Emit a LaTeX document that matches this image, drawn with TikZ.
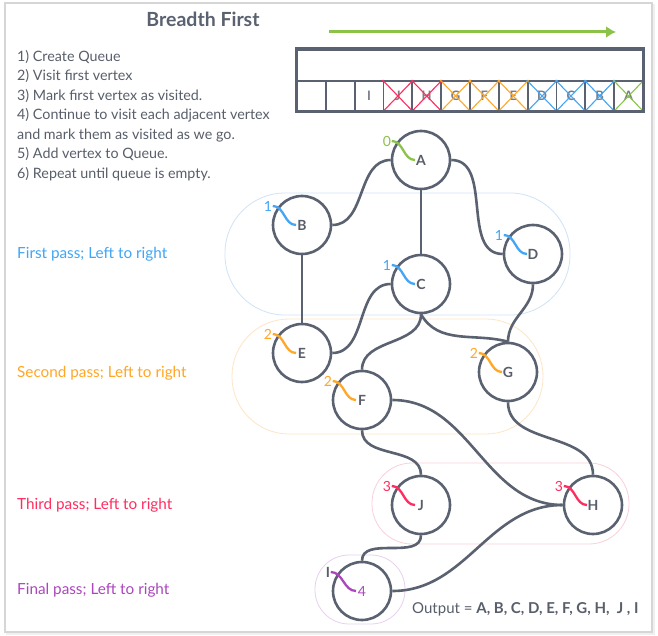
\documentclass[tikz,border=0pt]{standalone}
\usepackage{fontspec}
\setmainfont{Lato}
\usetikzlibrary{arrows.meta,calc}
\definecolor{edgegray}{HTML}{5A6170}
\definecolor{txtgray}{HTML}{585E6A}
\definecolor{framegray}{HTML}{D6D6D6}
\definecolor{qgreen}{HTML}{8BC34A}
\definecolor{qblue}{HTML}{42A5F5}
\definecolor{qorange}{HTML}{FFA726}
\definecolor{qred}{HTML}{FF2D5F}
\definecolor{qpurple}{HTML}{AB47BC}
\definecolor{bubblue}{HTML}{CFE4F7}
\definecolor{buborange}{HTML}{FDE6C6}
\definecolor{bubred}{HTML}{F9D0DA}
\definecolor{bubpurple}{HTML}{E7D1EE}

\begin{document}
\begin{tikzpicture}[x=1pt,y=-1pt,>=Latex,
 vtx/.style={circle,draw=edgegray,line width=2.6pt,fill=white,minimum size=58pt,inner sep=0pt,font=\fontsize{14}{16}\selectfont\bfseries,text=txtgray},
 num/.style={inner sep=0.5pt,font=\fontsize{14}{16}\selectfont},
 sq/.style={line width=2.3pt},
 edge/.style={draw=edgegray,line width=2.6pt},
 bubble/.style={line width=0.8pt},
 passlbl/.style={anchor=west,inner sep=0pt,font=\fontsize{15.3}{17}\selectfont},
 cell/.style={draw=edgegray,line width=1.8pt,minimum width=28.83pt,minimum height=30pt,inner sep=0pt,font=\fontsize{13}{15}\selectfont\bfseries,text=txtgray!80}]
\useasboundingbox (0,0) rectangle (658,636);
\draw[black!6,line width=2pt] (7,5) rectangle (654,634);
\draw[framegray,line width=1.2pt,fill=white] (5,3) rectangle (652,632);

% title and steps
\node[font=\fontsize{19.5}{22}\selectfont\bfseries,text=edgegray] (title) at (203,19) {Breadth First};
\node[anchor=north west,inner sep=0pt,align=left,text=txtgray,font=\fontsize{14.3}{19.5}\selectfont] (steps) at (17,50)
{1) Create Queue\\2) Visit first vertex\\3) Mark first vertex as visited.\\4) Continue to visit each adjacent vertex\\and mark them as visited as we go.\\5) Add vertex to Queue.\\6) Repeat until queue is empty.};

% queue
\coordinate (arrS) at (329,32);
\coordinate (arrE) at (616,32);
\draw[qgreen,line width=3pt,-{Latex[length=10pt,width=12pt]}] (arrS) -- (arrE);
\node[draw=edgegray,line width=2pt,minimum width=346pt,minimum height=31pt,inner sep=0pt] (qtop) at (470,65.5) {};
\foreach \i in {1,...,12}
  \node[cell] (q\i) at ({282.6+28.83*\i},96) {};
\node[cell,draw=none] at (q3) {I};
\foreach \i/\l/\c in {4/J/qred,5/H/qred,6/G/qorange,7/F/qorange,8/E/qorange,9/D/qblue,10/C/qblue,11/B/qblue,12/A/qgreen}{
  \node[cell,draw=none] at (q\i) {\l};
  \draw[\c,line width=1.1pt] (q\i.north west) -- (q\i.south east) (q\i.south west) -- (q\i.north east);
}
\draw[edgegray,line width=3pt] (qtop.north west) rectangle (q12.south east);

% passes
\draw[bubble,bubblue,rounded corners=60pt] (225,193) rectangle (570,315);
\draw[bubble,buborange,rounded corners=57pt] (232,319) rectangle (543,434);
\draw[bubble,bubred,rounded corners=40pt] (372,463) rectangle (629,544);
\draw[bubble,bubpurple,rounded corners=34pt] (315,555) rectangle (405,624);
\node[passlbl,text=qblue] (p1) at (17,254) {First pass; Left to right};
\node[passlbl,text=qorange] (p2) at (17,373) {Second pass; Left to right};
\node[passlbl,text=qred] (p3) at (17,505) {Third pass; Left to right};
\node[passlbl,text=qpurple] (p4) at (17,590) {Final pass; Left to right};

% vertices
\node[vtx] (A) at (421,160) {A};
\node[vtx] (B) at (302,225) {B};
\node[vtx] (C) at (421,284) {C};
\node[vtx] (D) at (533,254) {D};
\node[vtx] (E) at (302,353) {E};
\node[vtx] (F) at (362,400) {F};
\node[vtx] (G) at (508,372) {G};
\node[vtx] (J) at (421,505) {J};
\node[vtx] (H) at (593,505) {H};
\node[vtx,text=qpurple,font=\fontsize{14}{16}\selectfont] (I) at (362,591) {4};

% edges
\draw[edge] (A.west) to[out=180,in=0] (B.east);
\draw[edge] (A.south) -- (C.north);
\draw[edge] (A.east) to[out=0,in=180] (D.west);
\draw[edge] (B.south) -- (E.north);
\draw[edge] (C.west) to[out=180,in=0] (E.east);
\draw[edge] (C.south) to[out=-90,in=90] (F.north);
\draw[edge] (C.south) to[out=-60,in=165] (G.north);
\draw[edge] (D.south) to[out=-90,in=90] (G.north);
\draw[edge] (F.south) to[out=-90,in=90] (J.north);
\draw[edge] (F.east) to[out=0,in=180] (H.west);
\draw[edge] (G.south) to[out=-90,in=90] (H.north);
\draw[edge] (J.south) to[out=-90,in=90] (I.north);
\draw[edge] (I.east) to[out=0,in=180] (H.west);

% visit order
\foreach \v/\n/\c in {A/0/qgreen,B/1/qblue,C/1/qblue,D/1/qblue,E/2/qorange,F/2/qorange,G/2/qorange,J/3/qred,H/3/qred}{
  \node[num,text=\c] (n\v) at ($(\v)+(-34,-19)$) {\n};
  \draw[sq,\c] (n\v.east) to[out=0,in=180] ($(\v)+(-6,0)$);
}
\node[num,text=txtgray,font=\fontsize{14}{16}\selectfont\bfseries] (nI) at ($(I)+(-34,-19)$) {I};
\draw[sq,qpurple] (nI.east) to[out=0,in=180] ($(I)+(-6,0)$);

\node[anchor=west,inner sep=0pt,text=txtgray,font=\fontsize{15}{17}\selectfont] (out) at (412,609) {Output = \textbf{A, B, C, D, E, F, G, H,\ \ J , I}};
\end{tikzpicture}
\end{document}
